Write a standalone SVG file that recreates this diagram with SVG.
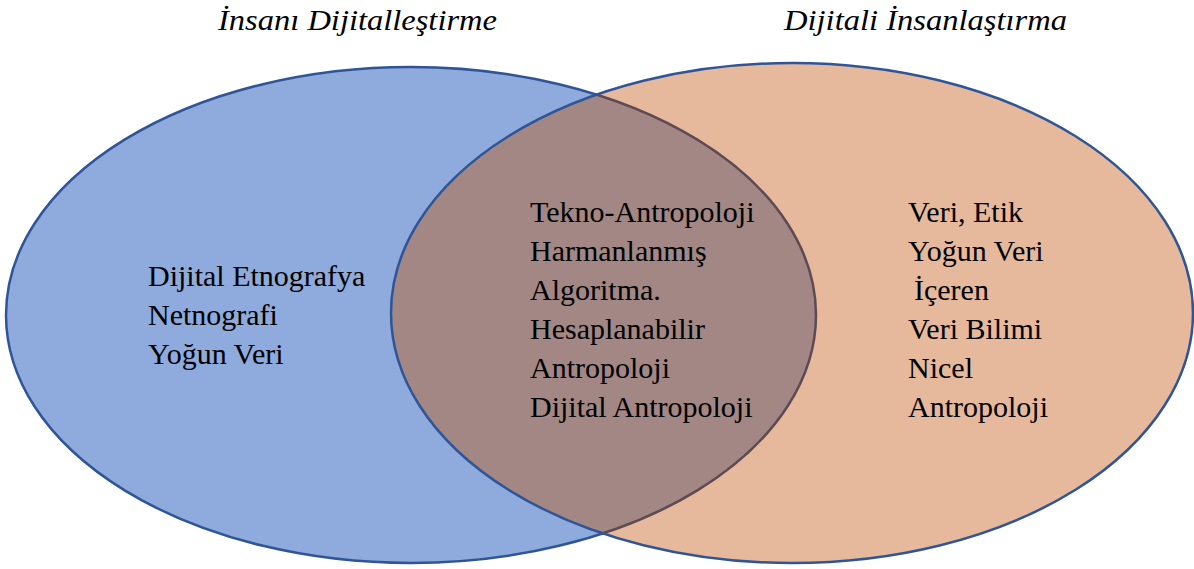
<svg xmlns="http://www.w3.org/2000/svg" width="1194" height="569" viewBox="0 0 1194 569">
<style>
.t{font-family:"Liberation Serif","Times New Roman",serif;font-size:30px;fill:#000}
.h{font-family:"Liberation Serif","Times New Roman",serif;font-size:29px;font-style:italic;fill:#000}
</style>
<defs>
<clipPath id="clipL"><ellipse cx="411" cy="315" rx="405" ry="248"/></clipPath>
<clipPath id="clipR"><ellipse cx="792" cy="313" rx="401" ry="250"/></clipPath>
</defs>
<rect width="1194" height="569" fill="#fff"/>
<g id="left-set">
<ellipse cx="411" cy="315" rx="405" ry="248" fill="#8faadc" stroke="#2f5597" stroke-width="2.5"/>
</g>
<g id="right-set">
<ellipse cx="792" cy="313" rx="401" ry="250" fill="#e6b99c"/>
<ellipse cx="792" cy="313" rx="401" ry="250" fill="#a38785" clip-path="url(#clipL)"/>
<ellipse cx="411" cy="315" rx="405" ry="248" fill="none" stroke="#5e4a52" stroke-width="2.5" clip-path="url(#clipR)"/>
<ellipse cx="792" cy="313" rx="401" ry="250" fill="none" stroke="#2f5597" stroke-width="2.5"/>
</g>
<g id="titles">
<text class="h" x="218" y="30" textLength="279" lengthAdjust="spacingAndGlyphs">İnsanı Dijitalleştirme</text>
<text class="h" x="784" y="30" textLength="283" lengthAdjust="spacingAndGlyphs">Dijitali İnsanlaştırma</text>
</g>
<g id="left-labels">
<text class="t" x="148" y="286">Dijital Etnografya</text>
<text class="t" x="148" y="325">Netnografi</text>
<text class="t" x="148" y="364">Yoğun Veri</text>
</g>
<g id="center-labels">
<text class="t" x="530" y="222">Tekno-Antropoloji</text>
<text class="t" x="530" y="261">Harmanlanmış</text>
<text class="t" x="530" y="300">Algoritma.</text>
<text class="t" x="530" y="339">Hesaplanabilir</text>
<text class="t" x="530" y="378">Antropoloji</text>
<text class="t" x="530" y="417">Dijital Antropoloji</text>
</g>
<g id="right-labels">
<text class="t" x="908" y="222">Veri, Etik</text>
<text class="t" x="908" y="261">Yoğun Veri</text>
<text class="t" x="914" y="300">İçeren</text>
<text class="t" x="908" y="339">Veri Bilimi</text>
<text class="t" x="908" y="378">Nicel</text>
<text class="t" x="908" y="417">Antropoloji</text>
</g>
<g id="connectors"></g>
</svg>
